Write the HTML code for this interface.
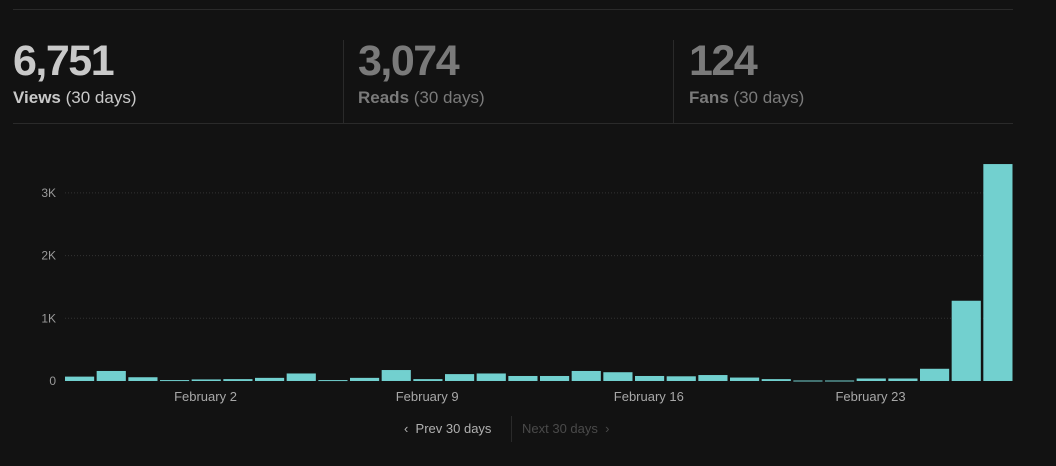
<!DOCTYPE html>
<html><head><meta charset="utf-8"><style>
html,body{margin:0;padding:0;background:#121212;width:1056px;height:466px;overflow:hidden;font-family:"Liberation Sans",sans-serif}
.abs{position:absolute}
.num{font-weight:bold;font-size:43px;letter-spacing:-1.5px}
.lbl{font-size:17px;margin-top:2px}
.lbl b{font-weight:bold}
</style></head><body>
<div class="abs" style="left:13px;top:9px;width:1000px;height:1px;background:#2a2a2a"></div>
<div class="abs" style="left:13px;top:123px;width:1000px;height:1px;background:#2a2a2a"></div>
<div class="abs" style="left:343px;top:40px;width:1px;height:83px;background:#2a2a2a"></div>
<div class="abs" style="left:673px;top:40px;width:1px;height:83px;background:#2a2a2a"></div>

<div class="abs" style="left:13px;top:37px;color:#c9c9c9">
<div class="num">6,751</div>
<div class="lbl"><b>Views</b> (30 days)</div></div>
<div class="abs" style="left:358px;top:37px;color:#7a7a7a">
<div class="num">3,074</div>
<div class="lbl"><b>Reads</b> (30 days)</div></div>
<div class="abs" style="left:689px;top:37px;color:#7a7a7a">
<div class="num">124</div>
<div class="lbl"><b>Fans</b> (30 days)</div></div>

<svg class="abs" style="left:0;top:0" width="1056" height="466" id="chart"></svg>

<div class="abs" style="left:404px;top:421px;color:#b0b0b0;font-size:13px">&#x2039;&nbsp; Prev 30 days</div>
<div class="abs" style="left:511px;top:416px;width:1px;height:26px;background:#2a2a2a"></div>
<div class="abs" style="left:522px;top:421px;color:#4a4a4a;font-size:13px">Next 30 days &nbsp;&#x203A;</div>

<script>
const values=[70,160,60,15,25,30,50,120,15,50,175,30,110,120,80,80,160,140,80,75,95,55,30,8,8,40,40,195,1280,3460];
const yTicks=[0,1000,2000,3000];
const yTickLabels=["0","1K","2K","3K"];
const xLabelIdx=[4,11,18,25];
const xLabels=["February 2","February 9","February 16","February 23"];
const svg=document.getElementById('chart');
const NS='http://www.w3.org/2000/svg';
const x0=65,x1=1015,y0=381,pxPerK=62.7;
const pitch=(x1-x0)/values.length;
const yS=v=>y0-v/1000*pxPerK;
const xS=i=>x0+i*pitch;
yTicks.forEach((t,i)=>{
 if(t>0){const l=document.createElementNS(NS,'line');
 l.setAttribute('x1',x0);l.setAttribute('x2',1013);l.setAttribute('y1',yS(t));l.setAttribute('y2',yS(t));
 l.setAttribute('stroke','#333');l.setAttribute('stroke-dasharray','1 2');
 
 
 svg.appendChild(l);}
 const tx=document.createElementNS(NS,'text');
 tx.setAttribute('x',56);tx.setAttribute('y',yS(t)+4);tx.setAttribute('text-anchor','end');
 tx.setAttribute('fill','#9a9a9a');tx.setAttribute('font-size','12');tx.setAttribute('font-family','Liberation Sans, sans-serif');
 tx.textContent=yTickLabels[i];
 
 
 svg.appendChild(tx);
});
values.forEach((v,i)=>{
 const r=document.createElementNS(NS,'rect');
 r.setAttribute('x',xS(i));r.setAttribute('width',pitch-2.5);
 r.setAttribute('y',yS(v));r.setAttribute('height',Math.max(1,y0-yS(v)));
 r.setAttribute('fill','#72d0cf');
 
 
 svg.appendChild(r);
});
xLabelIdx.forEach((idx,i)=>{
 const tx=document.createElementNS(NS,'text');
 tx.setAttribute('x',xS(idx)+pitch/2-2);tx.setAttribute('y',401);tx.setAttribute('text-anchor','middle');
 tx.setAttribute('fill','#a8a8a8');tx.setAttribute('font-size','13');tx.setAttribute('font-family','Liberation Sans, sans-serif');
 tx.textContent=xLabels[i];
 
 
 svg.appendChild(tx);
});
</script>
</body></html>
